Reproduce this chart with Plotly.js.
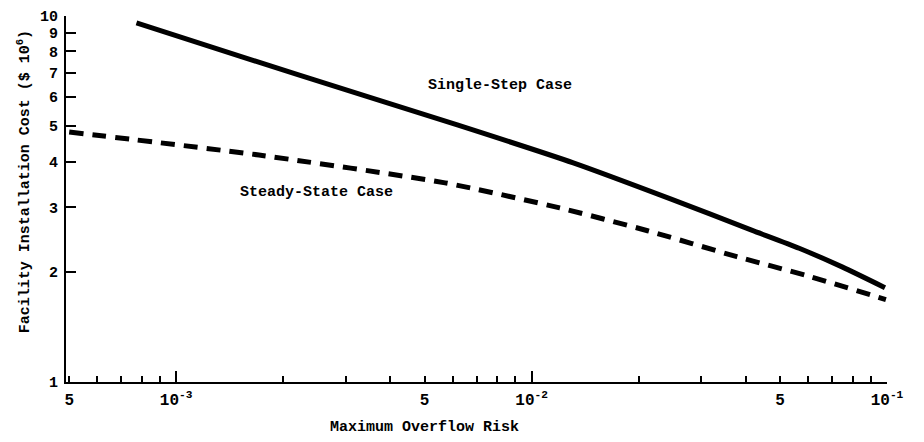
<!DOCTYPE html>
<html>
<head>
<meta charset="utf-8">
<script src="https://cdn.plot.ly/plotly-3.0.1.min.js"></script>
<style>html,body{margin:0;padding:0;background:#fff;}#chart{width:924px;height:442px;}</style>
</head>
<body>
<div id="chart"></div>
<script>
// Single-Step Case (solid)
const singleRisk = [7.73e-4, 2.21e-3, 6.18e-3, 1.31e-2, 2.47e-2, 4.16e-2, 5.66e-2, 7.50e-2, 9.87e-2];
const singleCost = [9.57, 6.90, 5.04, 3.97, 3.16, 2.60, 2.32, 2.06, 1.81];
// Steady-State Case (dashed)
const steadyRisk = [5.0e-4, 1.71e-3, 5.71e-3, 1.20e-2, 2.12e-2, 3.78e-2, 5.97e-2, 9.93e-2];
const steadyCost = [4.82, 4.17, 3.50, 2.99, 2.59, 2.20, 1.95, 1.68];
// Axis ticks
const xLabelVals = [5e-4, 1e-3, 5e-3, 1e-2, 5e-2, 1e-1];
const xLabelText = ['5', '10<sup>-3</sup>', '5', '10<sup>-2</sup>', '5', '10<sup>-1</sup>'];
const xMinorVals = [6e-4, 7e-4, 8e-4, 9e-4, 2e-3, 3e-3, 4e-3, 6e-3, 7e-3, 8e-3, 9e-3, 2e-2, 3e-2, 4e-2, 6e-2, 7e-2, 8e-2, 9e-2];
const xDecadeVals = [1e-3, 1e-2, 1e-1];
const yTickVals = [1, 2, 3, 4, 5, 6, 7, 8, 9, 10];
const yTickText = ['1', '2', '3', '4', '5', '6', '7', '8', '9', '10'];

const FONT = '"Liberation Mono", "DejaVu Sans Mono", monospace';
const xRange = [-3.31, -1];

const traces = [
  {x: singleRisk, y: singleCost, type: 'scatter', mode: 'lines', name: 'Single-Step Case',
   line: {color: '#000', width: 5, shape: 'spline', smoothing: 0.6}, xaxis: 'x', yaxis: 'y'},
  {x: steadyRisk, y: steadyCost, type: 'scatter', mode: 'lines', name: 'Steady-State Case',
   line: {color: '#000', width: 5, dash: '14px,9px', shape: 'spline', smoothing: 0.6}, xaxis: 'x2', yaxis: 'y'}
];

const layout = {
  width: 924, height: 442,
  margin: {l: 66, r: 37, t: 16, b: 60},
  paper_bgcolor: '#fff', plot_bgcolor: '#fff',
  showlegend: false,
  font: {family: FONT, color: '#000'},
  xaxis: {
    type: 'log', range: xRange, showgrid: false, zeroline: false,
    showline: true, linecolor: '#000', linewidth: 2,
    tickmode: 'array', tickvals: xLabelVals, ticktext: xLabelText,
    ticks: 'inside', ticklen: 6, tickwidth: 2, tickcolor: '#000',
    tickfont: {family: FONT, size: 16, color: '#000', weight: 'bold'},
    ticklabelstandoff: 2,
    minor: {tickmode: 'array', tickvals: xMinorVals, ticks: 'inside', ticklen: 6, tickwidth: 2, tickcolor: '#000', showgrid: false}
  },
  xaxis2: {
    type: 'log', range: xRange, overlaying: 'x', anchor: 'y', side: 'bottom',
    showgrid: false, zeroline: false, showline: false,
    tickmode: 'array', tickvals: xDecadeVals, showticklabels: false,
    ticks: 'inside', ticklen: 11, tickwidth: 2, tickcolor: '#000'
  },
  yaxis: {
    type: 'log', range: [0, 1], showgrid: false, zeroline: false,
    showline: true, linecolor: '#000', linewidth: 2,
    tickmode: 'array', tickvals: yTickVals, ticktext: yTickText,
    ticks: 'inside', ticklen: 10, tickwidth: 2, tickcolor: '#000',
    tickfont: {family: FONT, size: 15, color: '#000', weight: 'bold'},
    ticklabelstandoff: 3
  },
  annotations: [
    {text: 'Single-Step Case', xref: 'x', yref: 'y', x: -2.089, y: 0.809, showarrow: false,
     font: {family: FONT, size: 15, color: '#000', weight: 'bold'}},
    {text: 'Steady-State Case', xref: 'x', yref: 'y', x: -2.606, y: 0.519, showarrow: false,
     font: {family: FONT, size: 15, color: '#000', weight: 'bold'}},
    {text: 'Maximum Overflow Risk', xref: 'paper', yref: 'paper', x: 0.437, y: -0.123,
     xanchor: 'center', yanchor: 'middle', showarrow: false,
     font: {family: FONT, size: 15, color: '#000', weight: 'bold'}},
    {text: 'Facility Installation Cost ($ 10<sup>6</sup>)', xref: 'paper', yref: 'paper', x: -0.051, y: 0.546,
     xanchor: 'center', yanchor: 'middle', textangle: -90, showarrow: false,
     font: {family: FONT, size: 15, color: '#000', weight: 'bold'}}
  ]
};

Plotly.newPlot('chart', traces, layout, {displayModeBar: false, staticPlot: true});
</script>
</body>
</html>
